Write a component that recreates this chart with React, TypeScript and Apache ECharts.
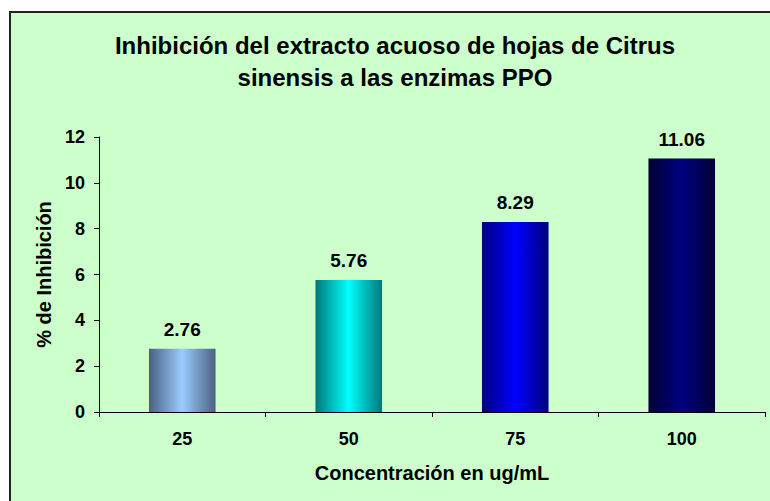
import React, { useEffect, useRef } from "react";
import * as echarts from "echarts";

const categories = ["25", "50", "75", "100"];
const values = [2.76, 5.76, 8.29, 11.06];
const edgeColors = ["#4A6180", "#007878", "#000080", "#000033"];
const centerColors = ["#99CCFF", "#00FFFF", "#0000FF", "#000080"];
const yTicks = { min: 0, max: 12, interval: 2 };

export default function App() {
  const ref = useRef<HTMLDivElement>(null);
  useEffect(() => {
    if (!ref.current) return;
    const chart = echarts.init(ref.current, undefined, { renderer: "svg" });
    const font = "Liberation Sans, Arial, sans-serif";
    chart.setOption({
      animation: false,
      backgroundColor: "#CCFFCC",
      title: {
        text: "Inhibición del extracto acuoso de hojas de Citrus\nsinensis a las enzimas PPO",
        left: 379,
        top: 11,
        textAlign: "center",
        textStyle: {
          fontFamily: font,
          fontWeight: "bold",
          fontSize: 24,
          lineHeight: 32,
          color: "#000",
        },
      },
      grid: { left: 88, right: 5, top: 124, bottom: 89, containLabel: false },
      xAxis: {
        type: "category",
        data: categories,
        name: "Concentración en ug/mL",
        nameLocation: "middle",
        nameGap: 51,
        nameTextStyle: { fontFamily: font, fontWeight: "bold", fontSize: 20, color: "#000" },
        axisLine: { lineStyle: { color: "#000", width: 1 } },
        axisTick: { show: true, length: 5, inside: false, alignWithLabel: false, lineStyle: { color: "#000" } },
        axisLabel: { fontFamily: font, fontWeight: "bold", fontSize: 18, color: "#000", margin: 18 },
        splitLine: { show: false },
      },
      yAxis: {
        type: "value",
        min: yTicks.min,
        max: yTicks.max,
        interval: yTicks.interval,
        name: "% de Inhibición",
        nameLocation: "middle",
        nameGap: 45,
        nameTextStyle: { fontFamily: font, fontWeight: "bold", fontSize: 20, color: "#000" },
        axisLine: { show: true, lineStyle: { color: "#000", width: 1 } },
        axisTick: { show: true, length: 5, lineStyle: { color: "#000" } },
        axisLabel: { fontFamily: font, fontWeight: "bold", fontSize: 18, color: "#000", margin: 14 },
        splitLine: { show: false },
      },
      series: [
        {
          type: "bar",
          barWidth: "40%",
          data: values.map((v, i) => ({
            value: v,
            itemStyle: {
              color: new echarts.graphic.LinearGradient(0, 0, 1, 0, [
                { offset: 0, color: edgeColors[i] },
                { offset: 0.5, color: centerColors[i] },
                { offset: 1, color: edgeColors[i] },
              ]),
            },
          })),
          label: {
            show: true,
            position: "top",
            distance: 10,
            formatter: (p: any) => p.value.toFixed(2),
            fontFamily: font,
            fontWeight: "bold",
            fontSize: 19,
            color: "#000",
          },
        },
      ],
    });
    return () => chart.dispose();
  }, []);
  return (
    <div
      style={{
        position: "absolute",
        left: 9,
        top: 11,
        width: 761,
        height: 490,
        borderTop: "2px solid #222",
        borderLeft: "2px solid #222",
        boxSizing: "border-box",
        overflow: "hidden",
      }}
    >
      <div ref={ref} style={{ width: 759, height: 488 }} />
    </div>
  );
}
